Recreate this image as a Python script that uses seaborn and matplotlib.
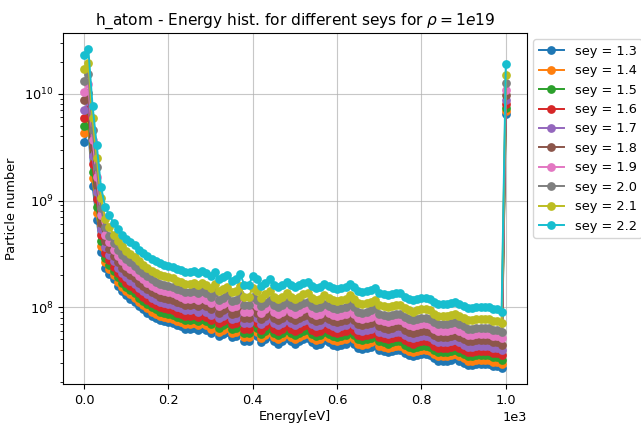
import numpy as np
import pandas as pd
import matplotlib
matplotlib.use("Agg")
import matplotlib.pyplot as plt
import seaborn as sns

# Energy bins (eV)
energy_eV = list(range(0, 1001, 10))

# sey levels (legend order)
sey_values = [1.3, 1.4, 1.5, 1.6, 1.7, 1.8, 1.9, 2.0, 2.1, 2.2]

# Particle numbers, stored as log10(particle number)
log10_n_sey13 = [9.55, 9.65, 9.14, 8.82, 8.52, 8.37, 8.31,
    8.26, 8.20, 8.15, 8.11, 8.08, 8.05, 8.01, 7.98, 7.95, 7.92,
    7.90, 7.88, 7.87, 7.86, 7.85, 7.83, 7.82, 7.80, 7.80, 7.81,
    7.79, 7.81, 7.79, 7.76, 7.80, 7.73, 7.75, 7.77, 7.72, 7.73,
    7.78, 7.68, 7.68, 7.76, 7.73, 7.67, 7.70, 7.73, 7.68, 7.66,
    7.68, 7.71, 7.68, 7.66, 7.68, 7.70, 7.71, 7.67, 7.65, 7.66,
    7.69, 7.67, 7.65, 7.64, 7.65, 7.66, 7.69, 7.66, 7.62, 7.61,
    7.62, 7.63, 7.65, 7.60, 7.59, 7.58, 7.59, 7.60, 7.60, 7.57,
    7.55, 7.54, 7.55, 7.56, 7.56, 7.55, 7.52, 7.50, 7.50, 7.50,
    7.51, 7.52, 7.50, 7.48, 7.46, 7.46, 7.47, 7.47, 7.47, 7.47,
    7.45, 7.45, 7.43, 9.81]
log10_n_sey14 = [9.63, 9.72, 9.21, 8.88, 8.57, 8.42, 8.36,
    8.30, 8.24, 8.19, 8.15, 8.12, 8.09, 8.05, 8.02, 7.99, 7.96,
    7.94, 7.92, 7.91, 7.90, 7.89, 7.87, 7.86, 7.84, 7.84, 7.85,
    7.83, 7.85, 7.83, 7.80, 7.84, 7.77, 7.79, 7.81, 7.76, 7.77,
    7.82, 7.72, 7.72, 7.80, 7.77, 7.71, 7.74, 7.77, 7.72, 7.70,
    7.72, 7.75, 7.72, 7.70, 7.72, 7.74, 7.75, 7.71, 7.69, 7.70,
    7.73, 7.71, 7.69, 7.68, 7.69, 7.70, 7.73, 7.70, 7.66, 7.65,
    7.66, 7.67, 7.69, 7.64, 7.63, 7.62, 7.63, 7.64, 7.64, 7.61,
    7.59, 7.58, 7.59, 7.60, 7.60, 7.59, 7.56, 7.54, 7.54, 7.54,
    7.55, 7.56, 7.54, 7.52, 7.50, 7.50, 7.51, 7.51, 7.51, 7.51,
    7.49, 7.49, 7.47, 9.84]
log10_n_sey15 = [9.70, 9.78, 9.27, 8.94, 8.62, 8.46, 8.40,
    8.34, 8.28, 8.23, 8.19, 8.16, 8.13, 8.09, 8.06, 8.03, 8.00,
    7.98, 7.96, 7.95, 7.94, 7.93, 7.91, 7.90, 7.88, 7.88, 7.89,
    7.87, 7.89, 7.87, 7.84, 7.88, 7.81, 7.83, 7.85, 7.80, 7.81,
    7.86, 7.76, 7.76, 7.84, 7.81, 7.75, 7.78, 7.81, 7.76, 7.74,
    7.76, 7.79, 7.76, 7.74, 7.76, 7.78, 7.79, 7.75, 7.73, 7.74,
    7.77, 7.75, 7.73, 7.72, 7.73, 7.74, 7.77, 7.74, 7.70, 7.69,
    7.70, 7.71, 7.73, 7.68, 7.67, 7.66, 7.67, 7.68, 7.68, 7.65,
    7.63, 7.62, 7.63, 7.64, 7.64, 7.63, 7.60, 7.58, 7.58, 7.58,
    7.59, 7.60, 7.58, 7.56, 7.54, 7.54, 7.55, 7.55, 7.55, 7.55,
    7.53, 7.53, 7.51, 9.87]
log10_n_sey16 = [9.77, 9.86, 9.34, 9.01, 8.68, 8.51, 8.44,
    8.38, 8.32, 8.27, 8.23, 8.20, 8.17, 8.13, 8.10, 8.07, 8.04,
    8.02, 8.00, 7.99, 7.98, 7.97, 7.95, 7.94, 7.92, 7.92, 7.93,
    7.91, 7.93, 7.91, 7.88, 7.92, 7.85, 7.87, 7.89, 7.84, 7.85,
    7.90, 7.80, 7.80, 7.88, 7.85, 7.79, 7.82, 7.85, 7.80, 7.78,
    7.80, 7.83, 7.80, 7.78, 7.80, 7.82, 7.83, 7.79, 7.77, 7.78,
    7.81, 7.79, 7.77, 7.76, 7.77, 7.78, 7.81, 7.78, 7.74, 7.73,
    7.74, 7.75, 7.77, 7.72, 7.71, 7.70, 7.71, 7.72, 7.72, 7.69,
    7.67, 7.66, 7.67, 7.68, 7.68, 7.67, 7.64, 7.62, 7.62, 7.62,
    7.63, 7.64, 7.62, 7.60, 7.58, 7.58, 7.59, 7.59, 7.59, 7.59,
    7.57, 7.57, 7.55, 9.90]
log10_n_sey17 = [9.85, 9.93, 9.42, 9.08, 8.73, 8.56, 8.49,
    8.43, 8.37, 8.32, 8.28, 8.25, 8.22, 8.18, 8.15, 8.12, 8.09,
    8.07, 8.05, 8.04, 8.03, 8.02, 8.00, 7.99, 7.97, 7.97, 7.98,
    7.96, 7.98, 7.96, 7.93, 7.97, 7.90, 7.92, 7.94, 7.89, 7.90,
    7.95, 7.85, 7.85, 7.93, 7.90, 7.84, 7.87, 7.90, 7.85, 7.83,
    7.85, 7.88, 7.85, 7.83, 7.85, 7.87, 7.88, 7.84, 7.82, 7.83,
    7.86, 7.84, 7.82, 7.81, 7.82, 7.83, 7.86, 7.83, 7.79, 7.78,
    7.79, 7.80, 7.82, 7.77, 7.76, 7.75, 7.76, 7.77, 7.77, 7.74,
    7.72, 7.71, 7.72, 7.73, 7.73, 7.72, 7.69, 7.67, 7.67, 7.67,
    7.68, 7.69, 7.67, 7.65, 7.63, 7.63, 7.64, 7.64, 7.64, 7.64,
    7.62, 7.62, 7.60, 9.94]
log10_n_sey18 = [9.94, 10.01, 9.50, 9.15, 8.79, 8.62, 8.55,
    8.48, 8.42, 8.37, 8.33, 8.30, 8.27, 8.23, 8.20, 8.17, 8.14,
    8.12, 8.10, 8.09, 8.08, 8.07, 8.05, 8.04, 8.02, 8.02, 8.03,
    8.01, 8.03, 8.01, 7.98, 8.02, 7.95, 7.97, 7.99, 7.94, 7.95,
    8.00, 7.90, 7.90, 7.98, 7.95, 7.89, 7.92, 7.95, 7.90, 7.88,
    7.90, 7.93, 7.90, 7.88, 7.90, 7.92, 7.93, 7.89, 7.87, 7.88,
    7.91, 7.89, 7.87, 7.86, 7.87, 7.88, 7.91, 7.88, 7.84, 7.83,
    7.84, 7.85, 7.87, 7.82, 7.81, 7.80, 7.81, 7.82, 7.82, 7.79,
    7.77, 7.76, 7.77, 7.78, 7.78, 7.77, 7.74, 7.72, 7.72, 7.72,
    7.73, 7.74, 7.72, 7.70, 7.68, 7.68, 7.69, 7.69, 7.69, 7.69,
    7.67, 7.67, 7.65, 9.99]
log10_n_sey19 = [10.02, 10.09, 9.57, 9.22, 8.86, 8.68, 8.61,
    8.54, 8.48, 8.43, 8.39, 8.36, 8.33, 8.29, 8.26, 8.23, 8.20,
    8.18, 8.16, 8.15, 8.14, 8.13, 8.11, 8.10, 8.08, 8.08, 8.09,
    8.07, 8.09, 8.07, 8.04, 8.08, 8.01, 8.03, 8.05, 8.00, 8.01,
    8.06, 7.96, 7.96, 8.04, 8.01, 7.95, 7.98, 8.01, 7.96, 7.94,
    7.96, 7.99, 7.96, 7.94, 7.96, 7.98, 7.99, 7.95, 7.93, 7.94,
    7.97, 7.95, 7.93, 7.92, 7.93, 7.94, 7.97, 7.94, 7.90, 7.89,
    7.90, 7.91, 7.93, 7.88, 7.87, 7.86, 7.87, 7.88, 7.88, 7.85,
    7.83, 7.82, 7.83, 7.84, 7.84, 7.83, 7.80, 7.78, 7.78, 7.78,
    7.79, 7.80, 7.78, 7.76, 7.74, 7.74, 7.75, 7.75, 7.75, 7.75,
    7.73, 7.73, 7.71, 10.04]
log10_n_sey20 = [10.12, 10.19, 9.66, 9.31, 8.93, 8.75, 8.67,
    8.60, 8.54, 8.49, 8.45, 8.42, 8.39, 8.35, 8.32, 8.29, 8.26,
    8.24, 8.22, 8.21, 8.20, 8.19, 8.17, 8.16, 8.14, 8.14, 8.15,
    8.13, 8.15, 8.13, 8.10, 8.14, 8.07, 8.09, 8.11, 8.06, 8.07,
    8.12, 8.02, 8.02, 8.10, 8.07, 8.01, 8.04, 8.07, 8.02, 8.00,
    8.02, 8.05, 8.02, 8.00, 8.02, 8.04, 8.05, 8.01, 7.99, 8.00,
    8.03, 8.01, 7.99, 7.98, 7.99, 8.00, 8.03, 8.00, 7.96, 7.95,
    7.96, 7.97, 7.99, 7.94, 7.93, 7.92, 7.93, 7.94, 7.94, 7.91,
    7.89, 7.88, 7.89, 7.90, 7.90, 7.89, 7.86, 7.84, 7.84, 7.84,
    7.85, 7.86, 7.84, 7.82, 7.80, 7.80, 7.81, 7.81, 7.81, 7.81,
    7.79, 7.79, 7.77, 10.10]
log10_n_sey21 = [10.23, 10.29, 9.77, 9.40, 9.02, 8.83, 8.75,
    8.68, 8.62, 8.57, 8.53, 8.50, 8.47, 8.43, 8.40, 8.37, 8.34,
    8.32, 8.30, 8.29, 8.28, 8.27, 8.25, 8.24, 8.22, 8.22, 8.23,
    8.21, 8.23, 8.21, 8.18, 8.22, 8.15, 8.17, 8.19, 8.14, 8.15,
    8.20, 8.10, 8.10, 8.18, 8.15, 8.09, 8.12, 8.15, 8.10, 8.08,
    8.10, 8.13, 8.10, 8.08, 8.10, 8.12, 8.13, 8.09, 8.07, 8.08,
    8.11, 8.09, 8.07, 8.06, 8.07, 8.08, 8.11, 8.08, 8.04, 8.03,
    8.04, 8.05, 8.07, 8.02, 8.01, 8.00, 8.01, 8.02, 8.02, 7.99,
    7.97, 7.96, 7.97, 7.98, 7.98, 7.97, 7.94, 7.92, 7.92, 7.92,
    7.93, 7.94, 7.92, 7.90, 7.88, 7.88, 7.89, 7.89, 7.89, 7.89,
    7.87, 7.87, 7.85, 10.18]
log10_n_sey22 = [10.36, 10.42, 9.89, 9.52, 9.13, 8.94, 8.86,
    8.79, 8.73, 8.68, 8.64, 8.61, 8.58, 8.54, 8.51, 8.48, 8.45,
    8.43, 8.41, 8.40, 8.39, 8.38, 8.36, 8.35, 8.33, 8.33, 8.34,
    8.32, 8.34, 8.32, 8.29, 8.33, 8.26, 8.28, 8.30, 8.25, 8.26,
    8.31, 8.21, 8.21, 8.29, 8.26, 8.20, 8.23, 8.26, 8.21, 8.19,
    8.21, 8.24, 8.21, 8.19, 8.21, 8.23, 8.24, 8.20, 8.18, 8.19,
    8.22, 8.20, 8.18, 8.17, 8.18, 8.19, 8.22, 8.19, 8.15, 8.14,
    8.15, 8.16, 8.18, 8.13, 8.12, 8.11, 8.12, 8.13, 8.13, 8.10,
    8.08, 8.07, 8.08, 8.09, 8.09, 8.08, 8.05, 8.03, 8.03, 8.03,
    8.04, 8.05, 8.03, 8.01, 7.99, 7.99, 8.00, 8.00, 8.00, 8.00,
    7.98, 7.98, 7.96, 10.28]

series_logs = [log10_n_sey13, log10_n_sey14, log10_n_sey15, log10_n_sey16,
               log10_n_sey17, log10_n_sey18, log10_n_sey19, log10_n_sey20,
               log10_n_sey21, log10_n_sey22]

legend_labels = [f"sey = {s}" for s in sey_values]

rows = []
for lab, logs in zip(legend_labels, series_logs):
    for e, lv in zip(energy_eV, logs):
        rows.append({"energy": e, "count": 10.0 ** lv, "sey": lab})
df = pd.DataFrame(rows)

plt.rcParams["font.size"] = 9.3

fig = plt.figure(figsize=(6.41, 4.24), dpi=100)
ax = fig.add_axes([0.0983, 0.0943, 0.7237, 0.8278])

sns.lineplot(data=df, x="energy", y="count", hue="sey", hue_order=legend_labels,
             palette="tab10", marker="o", markersize=6.3, markeredgewidth=0,
             linewidth=1.4, legend=False, ax=ax, sort=True)

ax.set_yscale("log")
ax.grid(True, color="#b0b0b0", linewidth=0.8, alpha=0.7)
ax.ticklabel_format(style="sci", axis="x", scilimits=(0, 0))
ax.set_xlabel("Energy[eV]", labelpad=2)
ax.set_ylabel("Particle number")
ax.set_title(r"h_atom - Energy hist. for different seys for $\rho = 1e19$", fontsize=11.1)

handles = ax.lines[:len(legend_labels)]
ax.legend(handles, legend_labels, loc="upper left", bbox_to_anchor=(1.0, 1.0))

fig.savefig("out.png", dpi=100)
